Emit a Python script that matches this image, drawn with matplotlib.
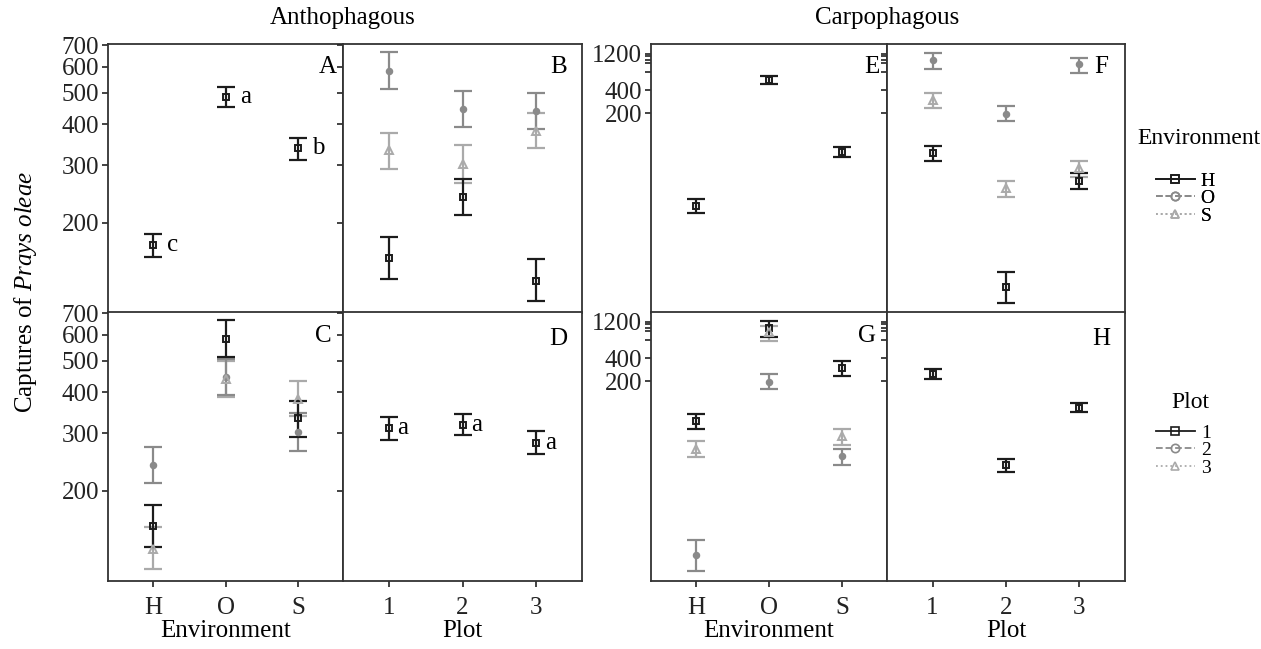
import matplotlib
matplotlib.use("Agg")
import matplotlib.pyplot as plt
from matplotlib.lines import Line2D
import numpy as np

plt.rcParams['font.family'] = ['Liberation Serif', 'DejaVu Serif']
plt.rcParams['mathtext.fontset'] = 'custom'
plt.rcParams['mathtext.rm'] = 'Liberation Serif'
plt.rcParams['mathtext.it'] = 'Liberation Serif:italic'

# ---------------- data ----------------
environments = ['H', 'O', 'S']
plots = ['1', '2', '3']

# Anthophagous: main effect of environment (panel A)
anth_env_mean = [171, 487, 338]
anth_env_lo = [157, 451, 312]
anth_env_hi = [185, 521, 364]
anth_env_letters = ['c', 'a', 'b']

# Anthophagous: main effect of plot (panel D)
anth_plot_mean = [312, 318, 281]
anth_plot_lo = [287, 296, 259]
anth_plot_hi = [337, 343, 305]
anth_plot_letters = ['a', 'a', 'a']

# Anthophagous: environment x plot cells (rows H, O, S; columns plot 1, 2, 3)
anth_cell_mean = [[156, 240, 133], [583, 446, 440], [333, 303, 383]]
anth_cell_lo = [[135, 211, 115], [513, 392, 388], [293, 265, 340]]
anth_cell_hi = [[181, 273, 155], [668, 505, 500], [377, 345, 434]]

# Carpophagous: main effect of environment (panel E)
carp_env_mean = [12.3, 543, 62.5]
carp_env_lo = [9.9, 482, 54.3]
carp_env_hi = [15.1, 612, 72]

# Carpophagous: main effect of plot (panel H)
carp_plot_mean = [249, 16.2, 90.4]
carp_plot_lo = [216, 13.1, 78.6]
carp_plot_hi = [286, 19.2, 103]

# Carpophagous: environment x plot cells
carp_cell_mean = [[61, 1.1, 26], [985, 197, 865], [298, 21, 38.7]]
carp_cell_lo = [[48, 0.68, 20.5], [760, 157, 665], [233, 16, 30]]
carp_cell_hi = [[76, 1.7, 33.5], [1234, 246, 1060], [370, 26.2, 48.2]]

anth_yticks = [200, 300, 400, 500, 600, 700]
carp_yticks = [200, 400, 700, 900, 1000, 1100, 1200]
carp_ylabels = ['200', '400', '', '', '', '', '1200']

# ---------------- styling ----------------
W, H = 1261, 649
FS = 18
colors = ['#1c1c1c', '#8a8a8a', '#aaaaaa']
markers = ['s', 'o', '^']
marker_fill = ['none', '#8a8a8a', 'none']
marker_size = [5, 4, 6]
lstyles = ['-', '--', ':']
CAP = 6.5
ELW = 1.6

fig = plt.figure(figsize=(W / 100, H / 100), dpi=100)


def add_ax(left, top, width, height):
    return fig.add_axes([left / W, 1 - (top + height) / H, width / W, height / H])


def style_ax(ax, ylim, yticks, ylabels, xlabels, show_y, show_x):
    ax.set_yscale('log')
    ax.set_ylim(*ylim)
    ax.set_xlim(-0.62, 2.62)
    ax.yaxis.set_minor_locator(matplotlib.ticker.NullLocator())
    ax.set_yticks(yticks)
    ax.set_yticklabels(ylabels if show_y else [''] * len(yticks))
    ax.set_xticks([0, 1, 2])
    ax.set_xticklabels(xlabels if show_x else ['', '', ''])
    ax.tick_params(direction='out', length=4.5, width=1.2, colors='#222222',
                   labelsize=FS, pad=2)
    ax.tick_params(axis='x', pad=7)
    for s in ax.spines.values():
        s.set_linewidth(1.3)
        s.set_color('#333333')


def draw_series(ax, idx, means, los, his):
    x = np.arange(len(means))
    m = np.array(means, float)
    lo = np.array(los, float)
    hi = np.array(his, float)
    ax.errorbar(x, m, yerr=[m - lo, hi - m], fmt='none', ecolor=colors[idx],
                elinewidth=ELW, capsize=CAP, capthick=ELW, zorder=3 - idx * 0.1)
    ax.plot(x, m, ls='none', marker=markers[idx], ms=marker_size[idx],
            mfc=marker_fill[idx], mec=colors[idx], mew=1.4, zorder=4)


blocks = [
    dict(left=108, wl=235, wr=239, ylim=(106, 705), yticks=anth_yticks,
         ylabels=[str(v) for v in anth_yticks],
         env=(anth_env_mean, anth_env_lo, anth_env_hi),
         plot=(anth_plot_mean, anth_plot_lo, anth_plot_hi),
         cm=anth_cell_mean, cl=anth_cell_lo, ch=anth_cell_hi,
         letters='ABCD', title='Anthophagous'),
    dict(left=651, wl=236, wr=238, ylim=(0.5, 1600), yticks=carp_yticks,
         ylabels=carp_ylabels,
         env=(carp_env_mean, carp_env_lo, carp_env_hi),
         plot=(carp_plot_mean, carp_plot_lo, carp_plot_hi),
         cm=carp_cell_mean, cl=carp_cell_lo, ch=carp_cell_hi,
         letters='EFGH', title='Carpophagous'),
]

TOP, HGT = 44, 269
for bi, b in enumerate(blocks):
    axA = add_ax(b['left'], TOP, b['wl'], HGT)
    axB = add_ax(b['left'] + b['wl'], TOP, b['wr'], HGT)
    axC = add_ax(b['left'], TOP + HGT - 1, b['wl'], HGT)
    axD = add_ax(b['left'] + b['wl'], TOP + HGT - 1, b['wr'], HGT)

    style_ax(axA, b['ylim'], b['yticks'], b['ylabels'], environments, True, False)
    style_ax(axB, b['ylim'], b['yticks'], b['ylabels'], plots, False, False)
    style_ax(axC, b['ylim'], b['yticks'], b['ylabels'], environments, True, True)
    style_ax(axD, b['ylim'], b['yticks'], b['ylabels'], plots, False, True)

    # main effects
    draw_series(axA, 0, *b['env'])
    draw_series(axD, 0, *b['plot'])
    # interaction: x = plot, series = environment
    for e in range(3):
        draw_series(axB, e, b['cm'][e], b['cl'][e], b['ch'][e])
    # interaction: x = environment, series = plot
    for p in range(3):
        draw_series(axC, p, [b['cm'][e][p] for e in range(3)],
                    [b['cl'][e][p] for e in range(3)],
                    [b['ch'][e][p] for e in range(3)])

    axC.set_xlabel('Environment', fontsize=FS, labelpad=1)
    axD.set_xlabel('Plot', fontsize=FS, labelpad=1)

    lx = [0.935, 0.9, 0.915, 0.9]
    ly = [0.915, 0.915, 0.91, 0.9]
    for ax, let, x, y in zip([axA, axB, axC, axD], b['letters'], lx, ly):
        ax.text(x, y, let, transform=ax.transAxes, ha='center', va='center',
                fontsize=FS)

    fig.text((b['left'] + b['wl']) / W, 1 - 18 / H, b['title'], ha='center',
             va='center', fontsize=FS)

    if bi == 0:
        for i, let in enumerate(anth_env_letters):
            axA.text(i + 0.2, anth_env_mean[i], let, ha='left', va='center', fontsize=FS)
        for i, let in enumerate(anth_plot_letters):
            axD.text(i + 0.12, anth_plot_mean[i], let, ha='left', va='center', fontsize=FS)

fig.text(26 / W, 1 - 292 / H, r'Captures of $\it{Prays\ oleae}$', rotation=90,
         ha='center', va='center', fontsize=FS)

# legends (titles as separate texts)
def make_handles():
    return [Line2D([], [], color=colors[i], ls=lstyles[i], lw=1.3, marker=markers[i],
                   ms=6, mfc='none', mec=colors[i], mew=1.2) for i in range(3)]

LFS = 14
fig.text(1199 / W, 1 - 138 / H, 'Environment', ha='center', va='center', fontsize=17)
leg1 = fig.legend(make_handles(), environments,
                  loc='upper left', bbox_to_anchor=(1156 / W, 1 - 172 / H),
                  frameon=False, fontsize=LFS,
                  handlelength=2.0, handletextpad=0.3, labelspacing=0.0,
                  borderpad=0, borderaxespad=0, numpoints=1)
fig.text(1190 / W, 1 - 402 / H, 'Plot', ha='center', va='center', fontsize=17)
leg2 = fig.legend(make_handles(), plots,
                  loc='upper left', bbox_to_anchor=(1156 / W, 1 - 424 / H),
                  frameon=False, fontsize=LFS,
                  handlelength=2.0, handletextpad=0.3, labelspacing=0.0,
                  borderpad=0, borderaxespad=0, numpoints=1)
fig.add_artist(leg1)

fig.savefig('out.png', dpi=100)
